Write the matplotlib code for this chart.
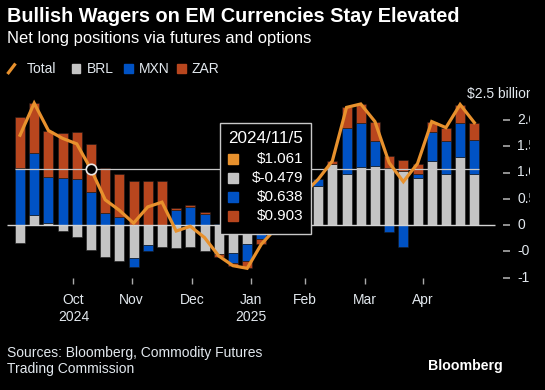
import numpy as np
import matplotlib
matplotlib.use("Agg")
from matplotlib import pyplot as plt
from matplotlib.patches import Rectangle
from matplotlib.lines import Line2D
from matplotlib.transforms import blended_transform_factory

plt.rcParams['font.family'] = ['Liberation Sans', 'DejaVu Sans']

# weekly net long positions, $ billion
brl = [-0.34, 0.19, 0.04, -0.11, -0.22, -0.479, -0.615, -0.69, -0.635, -0.38, -0.41,
       -0.44, -0.41, -0.495, -0.56, -0.54, -0.36, -0.12, 0.10, 0.30, 0.55, 0.74,
       1.16, 0.97, 1.11, 1.13, 1.09, 1.035, 0.89, 1.21, 0.97, 1.29, 0.97]
mxn = [1.08, 1.175, 0.865, 0.89, 0.875, 0.638, 0.22, 0.145, -0.16, -0.115, 0.0,
       0.28, 0.34, 0.215, 0.02, -0.19, -0.325, -0.15, -0.12, -0.02, 0.05, 0.13,
       0.0, 0.88, 0.825, 0.47, -0.125, -0.41, 0.08, 0.56, 0.635, 0.65, 0.65]
zar = [0.97, 0.95, 0.89, 0.87, 0.89, 0.903, 0.875, 0.825, 0.83, 0.84, 0.845,
       0.045, 0.045, 0.04, -0.05, -0.045, -0.14, -0.095, -0.05, 0.0, 0.0, 0.0,
       0.06, 0.39, 0.37, 0.37, 0.22, 0.2, 0.2, 0.2, 0.25, 0.355, 0.33]
total = [1.71, 2.32, 1.80, 1.65, 1.545, 1.061, 0.48, 0.28, 0.035, 0.345, 0.435,
         -0.115, -0.025, -0.24, -0.59, -0.775, -0.825, -0.365, -0.07, 0.28, 0.60, 0.87,
         1.22, 2.24, 2.305, 1.97, 1.185, 0.825, 1.17, 1.97, 1.855, 2.295, 1.95]

month_pos = [3.76, 7.87, 12.11, 16.28, 20.08, 24.31, 28.38]
month_labels = ["Oct\n2024", "Nov", "Dec", "Jan\n2025", "Feb", "Mar", "Apr"]
y_ticks = [-1.0, -0.5, 0.0, 0.5, 1.0, 1.5, 2.0]
y_labels = ["-1.0", "-0.5", "0", "0.5", "1.0", "1.5", "2.0"]

hover_idx = 5
hover_date = "2024/11/5"

ORANGE = '#E8912D'
GRAY = '#C4C4C4'
BLUE = '#0052C4'
RED = '#B8461E'
TXT = '#E2E8EE'

W, H = 545, 390
fig = plt.figure(figsize=(W / 100, H / 100), dpi=100, facecolor='black')

def fx(px):
    return px / W

def fy(py):
    return 1 - py / H

ax = fig.add_axes([fx(7), fy(277.5), fx(503 - 7), (277.5 - 93.75) / H])
ax.set_facecolor('black')
x = np.arange(len(total))

# stack positives up and negatives down
pos_b = np.zeros(len(x))
neg_b = np.zeros(len(x))
for vals, col in [(brl, GRAY), (mxn, BLUE), (zar, RED)]:
    v = np.array(vals)
    b = np.where(v >= 0, pos_b, neg_b)
    ax.bar(x, v, width=0.7, bottom=b, color=col, edgecolor='#1a1a1a',
           linewidth=0.4, zorder=2)
    pos_b = pos_b + np.where(v >= 0, v, 0)
    neg_b = neg_b + np.where(v < 0, v, 0)

ax.hlines(0, -0.916, 33.46, color='#d4d4d4', lw=1.0, zorder=3)
ax.hlines(total[hover_idx], -0.35, 32.35, color='#c8c8c8', lw=0.9, zorder=3)
ax.plot(x, total, color=ORANGE, lw=2.3, zorder=4, solid_joinstyle='miter')
ax.plot(x[hover_idx], total[hover_idx], 'o', ms=7.5, mfc='black', mec='#e8e8e8',
        mew=1.2, zorder=5)

ax.set_xlim(-0.916, 34.02)
ax.set_ylim(-1.0, 2.5)
for s in ax.spines.values():
    s.set_visible(False)

ax.set_xticks(month_pos, labels=month_labels)
ax.tick_params(axis='x', colors='#aaaaaa', length=4.5, width=1, pad=6.5,
               labelcolor=TXT, labelsize=10)
for lbl in ax.get_xticklabels():
    lbl.set_linespacing(1.25)

ax.yaxis.tick_right()
ax.set_yticks(y_ticks, labels=[""] * len(y_ticks))
ax.tick_params(axis='y', colors='#aaaaaa', length=5, width=1.2)

ytrans = blended_transform_factory(fig.transFigure, ax.transData)
for yv, lab in zip(y_ticks, y_labels):
    ax.text(fx(517), yv, lab, transform=ytrans, color=TXT, fontsize=10,
            va='center', ha='left', clip_on=False)
ax.text(fx(534), 2.5, "$2.5 billion", transform=ytrans, color=TXT, fontsize=10,
        va='center', ha='right', clip_on=False)
# right-hand labels are cut off at the chart edge
fig.add_artist(Rectangle((fx(530), fy(300)), fx(15), 220 / H, facecolor='black',
                         edgecolor='none', zorder=10))

# titles
fig.text(fx(7), fy(17), "Bullish Wagers on EM Currencies Stay Elevated", color='white',
         fontsize=14.3, fontweight='bold', va='center', ha='left')
fig.text(fx(7), fy(38.5), "Net long positions via futures and options", color='white',
         fontsize=11.9, va='center', ha='left')

# legend
fig.add_artist(Line2D([fx(7.5), fx(15.5)], [fy(74), fy(63.5)], color=ORANGE, lw=2.3,
                      solid_capstyle='butt'))
fig.text(fx(27), fy(69), "Total", color=TXT, fontsize=10, va='center', ha='left')
for px, col, lab in [(71.5, GRAY, "BRL"), (124, BLUE, "MXN"), (177, RED, "ZAR")]:
    fig.add_artist(Rectangle((fx(px), fy(73)), fx(8.5), 8.5 / H, color=col))
    fig.text(fx(px + 15), fy(69), lab, color=TXT, fontsize=10, va='center', ha='left')

# tooltip
fig.add_artist(Rectangle((fx(220), fy(234)), fx(91), 111 / H, facecolor='black',
                         edgecolor='#c8c8c8', lw=1, zorder=6))
fig.text(fx(265.5), fy(138), hover_date, color='white', fontsize=12.3, va='center',
         ha='center', zorder=7)
rows = [(total, ORANGE), (brl, GRAY), (mxn, BLUE), (zar, RED)]
for k, (vals, col) in enumerate(rows):
    yy = 158.7 + k * 19.2
    fig.add_artist(Rectangle((fx(228), fy(yy + 5)), fx(10), 10 / H, color=col, zorder=7))
    fig.text(fx(303), fy(yy), "$%.3f" % vals[hover_idx], color='white', fontsize=11,
             va='center', ha='right', zorder=7)

# footer
fig.text(fx(7), fy(361), "Sources: Bloomberg, Commodity Futures\nTrading Commission",
         color=TXT, fontsize=10, va='center', ha='left', linespacing=1.15)
fig.text(fx(503), fy(366), "Bloomberg", color='white', fontsize=10.2, fontweight='bold',
         va='center', ha='right')

fig.savefig("out.png", dpi=100, facecolor='black')
